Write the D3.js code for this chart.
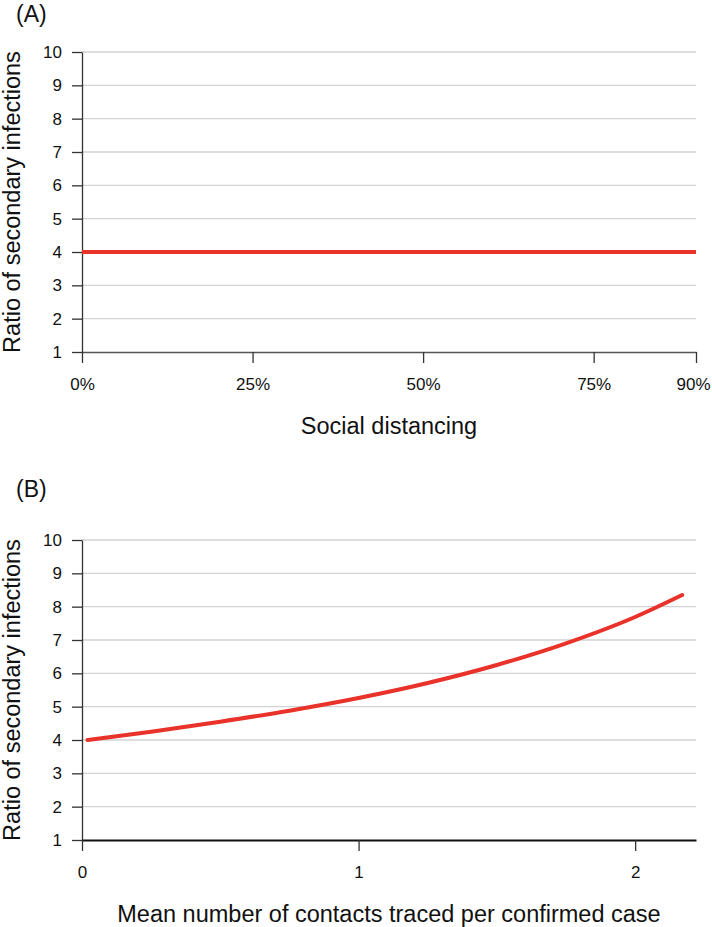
<!DOCTYPE html>
<html>
<head>
<meta charset="utf-8">
<script src="https://cdn.jsdelivr.net/npm/d3@7"></script>
<style>
  html, body { margin: 0; padding: 0; background: #fff; }
  svg { display: block; font-family: "Liberation Sans", Arial, Helvetica, sans-serif; }
</style>
</head>
<body>
<svg id="chart" width="712" height="927"></svg>
<script>
// ---- Data ----
const yTicks = [1, 2, 3, 4, 5, 6, 7, 8, 9, 10];

// Panel A: social distancing (%) vs ratio of secondary infections
const distancingTicks = [0, 25, 50, 75, 90];
const distancingX = [0, 90];
const distancingRatio = [4, 4];

// Panel B: mean number of contacts traced per confirmed case
const tracedTicks = [0, 1, 2];
const tracedX = [0.02, 0.25, 0.5, 0.75, 1.0, 1.25, 1.5, 1.75, 2.0, 2.17];
const tracedRatio = [4.00, 4.25, 4.55, 4.88, 5.26, 5.71, 6.25, 6.90, 7.69, 8.35];

const RED = "#e8322a";
const svg = d3.select("#chart");

function panel(opts) {
  const g = svg.append("g");
  const x = d3.scaleLinear().domain(opts.xDomain).range([82, 696]);
  const y = d3.scaleLinear().domain([1, 10]).range([opts.bottom, opts.bottom - 300]);

  // gridlines
  g.append("g").selectAll("line")
    .data(yTicks.filter(d => d > 1))
    .join("line")
    .attr("x1", x.range()[0]).attr("x2", x.range()[1])
    .attr("y1", d => y(d)).attr("y2", d => y(d))
    .attr("stroke", "#d2d2d2").attr("stroke-width", 1.3);

  // y axis
  const ya = g.append("g")
    .attr("transform", `translate(${x.range()[0]},0)`)
    .call(d3.axisLeft(y).tickValues(yTicks).tickSize(10).tickSizeOuter(0).tickPadding(10).tickFormat(d3.format("d")));
  ya.select(".domain").attr("stroke", "#333").attr("stroke-width", 1.3);
  ya.selectAll(".tick line").attr("stroke", "#333").attr("stroke-width", 1.3);
  ya.selectAll(".tick text").attr("font-size", 17).attr("fill", "#111")
    .attr("font-family", "Liberation Sans, Arial, sans-serif");

  // x axis
  const xa = g.append("g")
    .attr("transform", `translate(0,${opts.bottom})`)
    .call(d3.axisBottom(x).tickValues(opts.xTicks).tickSize(11).tickSizeOuter(0).tickPadding(15).tickFormat(opts.fmt));
  xa.select(".domain").attr("stroke", opts.xAxisColor).attr("stroke-width", opts.xAxisWidth);
  xa.selectAll(".tick line").attr("stroke", "#333").attr("stroke-width", 1.3);
  xa.selectAll(".tick text").attr("font-size", 17).attr("fill", "#111")
    .attr("font-family", "Liberation Sans, Arial, sans-serif");
  // keep the last label inside the page edge
  xa.selectAll(".tick text").filter(d => d === opts.xTicks[opts.xTicks.length - 1] && opts.nudgeLast)
    .attr("text-anchor", "end").attr("dx", 14);

  // data line
  const line = d3.line().x(d => x(d[0])).y(d => y(d[1])).curve(d3.curveMonotoneX);
  g.append("path")
    .datum(d3.zip(opts.xs, opts.ys))
    .attr("d", line)
    .attr("fill", "none").attr("stroke", RED).attr("stroke-width", 4)
    .attr("stroke-linecap", opts.cap);

  // y title
  g.append("text")
    .attr("transform", `translate(20,${(y(1) + y(10)) / 2}) rotate(-90)`)
    .attr("text-anchor", "middle")
    .attr("font-size", 23.5).attr("fill", "#111")
    .text("Ratio of secondary infections");

  // x title
  g.append("text")
    .attr("x", 389).attr("y", opts.bottom + opts.titleOffset)
    .attr("text-anchor", "middle")
    .attr("font-size", 23.5).attr("fill", "#111")
    .text(opts.xTitle);

  // panel label
  g.append("text")
    .attr("x", 16).attr("y", opts.labelY)
    .attr("font-size", 23).attr("fill", "#111")
    .text(opts.label);
}

panel({
  bottom: 352, xDomain: [0, 90], xTicks: distancingTicks,
  fmt: d => d + "%", xs: distancingX, ys: distancingRatio,
  xTitle: "Social distancing", titleOffset: 82, label: "(A)", labelY: 22,
  xAxisColor: "#555", xAxisWidth: 1.3, cap: "butt", nudgeLast: true
});

panel({
  bottom: 840, xDomain: [0, 2.22], xTicks: tracedTicks,
  fmt: d3.format("d"), xs: tracedX, ys: tracedRatio,
  xTitle: "Mean number of contacts traced per confirmed case", titleOffset: 82, label: "(B)", labelY: 497,
  xAxisColor: "#111", xAxisWidth: 2, cap: "round", nudgeLast: false
});
</script>
</body>
</html>
